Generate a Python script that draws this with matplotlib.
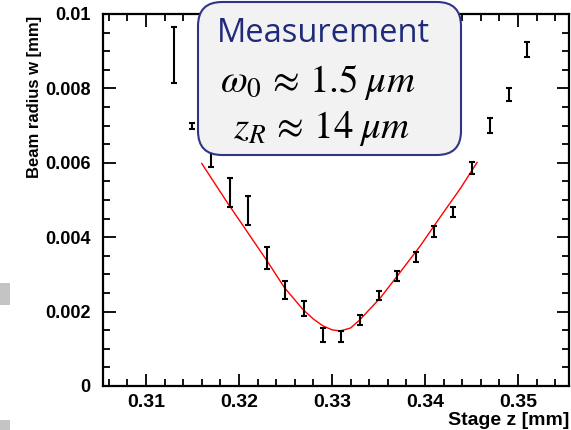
"""
Beam waist scan: measured beam radius vs. stage position with the Gaussian fit.
"""
import matplotlib
matplotlib.use("Agg")
import matplotlib.pyplot as plt
from matplotlib.patches import FancyBboxPatch, Rectangle
from matplotlib.ticker import MultipleLocator
from matplotlib.transforms import IdentityTransform

# measured points: stage position [mm], beam radius [mm], half error [mm]
stage_z = [0.313, 0.315, 0.317, 0.319, 0.321, 0.323, 0.325, 0.327, 0.329, 0.331,
           0.333, 0.335, 0.337, 0.339, 0.341, 0.343, 0.345, 0.347, 0.349, 0.351]
radius_w = [0.0089, 0.0070, 0.0061, 0.0052, 0.00472, 0.00344, 0.00258, 0.00209, 0.00138, 0.00134,
            0.00178, 0.00243, 0.00295, 0.00347, 0.00415, 0.00468, 0.00585, 0.0070, 0.00783, 0.00905]
radius_err = [0.00075, 0.00008, 0.0002, 0.0004, 0.00038, 0.00029, 0.00023, 0.0002, 0.00019, 0.00015,
              0.00014, 0.00013, 0.00014, 0.00014, 0.00015, 0.00013, 0.00016, 0.0002, 0.00018, 0.0002]

# fitted curve
fit_z = [0.3160, 0.3188, 0.3230, 0.3249, 0.3269, 0.3280, 0.3290, 0.3300, 0.3309, 0.3320,
         0.3330, 0.3340, 0.3352, 0.3373, 0.3395, 0.3416, 0.3438, 0.3456]
fit_w = [0.00598, 0.00491, 0.00337, 0.00264, 0.00205, 0.00180, 0.00162, 0.00151, 0.00148, 0.00156,
         0.00178, 0.00205, 0.00237, 0.00305, 0.00377, 0.00453, 0.00531, 0.00601]

box_lines = ["Measurement", r"$\omega_0\,\approx\,1.5\;\mu m$", r"$z_R\,\approx\,14\;\mu m$"]

plt.rcParams["font.family"] = ["Liberation Sans", "DejaVu Sans"]
plt.rcParams["mathtext.fontset"] = "stix"

fig = plt.figure(figsize=(5.71, 4.30), dpi=100)
ax = fig.add_axes([103 / 571, 1 - 386 / 430, 466 / 571, 372 / 430])

ax.plot(fit_z, fit_w, color="red", lw=1.0, zorder=2)
ax.errorbar(stage_z, radius_w, yerr=radius_err, fmt="none", ecolor="black",
            elinewidth=1.5, capsize=2.5, capthick=1.5, zorder=3)

ax.set_xlim(0.30538, 0.35548)
ax.set_ylim(0, 0.01)
ax.xaxis.set_minor_locator(MultipleLocator(0.002))
ax.yaxis.set_minor_locator(MultipleLocator(0.0005))
ax.set_xticks([0.31, 0.32, 0.33, 0.34, 0.35])
ax.set_xticklabels(["0.31", "0.32", "0.33", "0.34", "0.35"], fontweight="bold")
ax.set_yticks([0, 0.002, 0.004, 0.006, 0.008, 0.01])
ax.set_yticklabels(["0", "0.002", "0.004", "0.006", "0.008", "0.01"], fontweight="bold")

ax.tick_params(which="both", direction="in", top=True, right=True, width=1.3)
ax.tick_params(which="major", length=9)
ax.tick_params(which="minor", length=5)
ax.tick_params(axis="x", labelsize=14, pad=6)
ax.tick_params(axis="y", labelsize=13, pad=9)
for sp in ax.spines.values():
    sp.set_linewidth(1.6)

ax.set_xlabel("Stage z [mm]", fontsize=14, fontweight="bold", loc="right")
ax.set_ylabel("Beam radius w [mm]", fontsize=12, fontweight="bold", loc="top")
ax.xaxis.set_label_coords(1.0, -0.07)
ax.yaxis.set_label_coords(-0.13, 0.995)

# grey slide remnants at the left edge
for y0, h in [(430 - 305, 22), (0, 10)]:
    fig.add_artist(Rectangle((0, y0), 10, h, transform=IdentityTransform(),
                             facecolor="#c4c4c4", edgecolor="none", zorder=1))

# annotation box drawn over the top of the axes (pixel coordinates)
box = FancyBboxPatch((198, 430 - 155), 263, 153, boxstyle="round,pad=0,rounding_size=24",
                     transform=IdentityTransform(), facecolor="#f2f2f2",
                     edgecolor="#2e3585", linewidth=1.5, zorder=5)
fig.add_artist(box)
fig.text(323 / 571, 1 - 33 / 430, box_lines[0], ha="center", va="center",
         fontsize=23.5, fontweight="normal", family=["Open Sans", "DejaVu Sans"],
         color="#1f2a7a", zorder=6)
fig.text(318 / 571, 1 - 82 / 430, box_lines[1], ha="center", va="center",
         fontsize=28, fontweight="normal", color="black", zorder=6)
fig.text(322 / 571, 1 - 128 / 430, box_lines[2], ha="center", va="center",
         fontsize=28, fontweight="normal", color="black", zorder=6)

fig.savefig("out.png", dpi=100)
